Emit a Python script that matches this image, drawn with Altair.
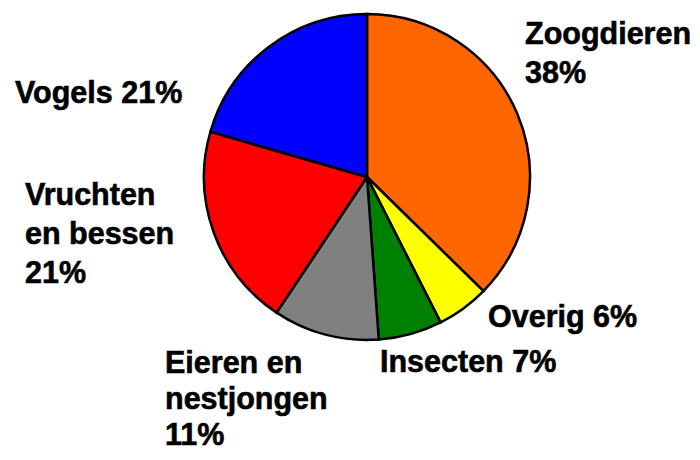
import altair as alt
import pandas as pd

# Slice data (clockwise from 12 o'clock), shares
categories = ["Zoogdieren", "Overig", "Insecten", "Eieren en nestjongen",
              "Vruchten en bessen", "Vogels"]
shares = [37.3, 5.2, 6.3, 10.5, 20.1, 20.5]
pct_labels = ["38%", "6%", "7%", "11%", "21%", "21%"]
colors = ["#FF6600", "#FFFF00", "#008000", "#808080", "#FF0000", "#0000FF"]

# Label texts as they are displayed
label_texts = ["Zoogdieren\n38%", "Overig 6%", "Insecten 7%",
               "Eieren en\nnestjongen\n11%", "Vruchten\nen bessen\n21%",
               "Vogels 21%"]

df = pd.DataFrame({
    "cat": categories,
    "share": shares,
    "order": list(range(len(categories))),
    "pct": pct_labels,
})

W, H = 684, 444
CX, CY = 359, 169  # pie centre inside the plot area
R = 163

pie = alt.Chart(df).mark_arc(
    outerRadius=R, stroke="black", strokeWidth=2.5
).encode(
    theta=alt.Theta("share:Q", stack=True),
    order=alt.Order("order:Q"),
    color=alt.Color("cat:N", scale=alt.Scale(domain=categories, range=colors),
                    legend=None),
    x=alt.value(CX),
    y=alt.value(CY),
)

# label anchor positions (left edge, first baseline, line height) in plot area
anchors = [(517, 36, 39), (480, 319, 39), (372, 364, 39), (157, 365, 36),
           (17, 197, 39), (7, 95, 39)]

layers = [pie]
for txt, (ax, ay, lh) in zip(label_texts, anchors):
    ldf = pd.DataFrame({"t": [txt]})
    layers.append(
        alt.Chart(ldf).mark_text(
            align="left", baseline="alphabetic", fontSize=30.5,
            fontWeight="bold", font="Arial", color="black",
            stroke="black", strokeWidth=0.6,
            lineBreak="\n", lineHeight=lh
        ).encode(text="t:N", x=alt.value(ax), y=alt.value(ay))
    )

chart = alt.layer(*layers).properties(
    width=W, height=H, autosize=alt.AutoSizeParams(type="none"), padding=0
).configure_view(stroke=None)

chart.save("out.html", embed_options={"renderer": "svg", "actions": False})
